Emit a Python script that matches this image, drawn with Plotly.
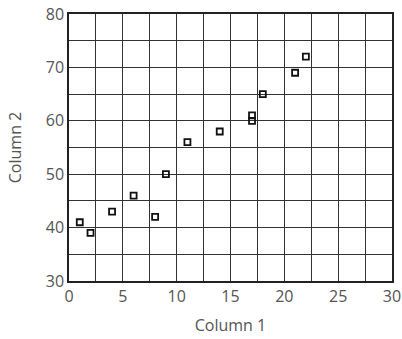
import plotly.graph_objects as go

col1 = [1, 2, 4, 6, 8, 9, 11, 14, 17, 17, 18, 21, 22]
col2 = [41, 39, 43, 46, 42, 50, 56, 58, 61, 60, 65, 69, 72]
x_ticks = [0, 5, 10, 15, 20, 25, 30]
y_ticks = [30, 40, 50, 60, 70, 80]

FONT = "Open Sans"
fig = go.Figure()
fig.add_trace(go.Scatter(
    x=col1, y=col2, mode="markers",
    marker=dict(symbol="square-open", size=6, color="#111",
                line=dict(width=1.8, color="#111")),
    showlegend=False, cliponaxis=False,
))

axis_common = dict(
    showline=True, linecolor="#222", linewidth=1.5, mirror=True,
    showgrid=True, gridcolor="#333", gridwidth=1.3,
    zeroline=False, ticks="", automargin=False,
    tickfont=dict(family=FONT, size=16, color="#555"),
)
fig.update_xaxes(range=[0, 30], tickvals=x_ticks,
                 minor=dict(dtick=2.5, tick0=0, showgrid=True, gridcolor="#333", gridwidth=1.3),
                 title=dict(text="Column 1", font=dict(family=FONT, size=16, color="#555"), standoff=14),
                 **axis_common)
fig.update_yaxes(range=[30, 80], tickvals=y_ticks,
                 minor=dict(dtick=5, tick0=0, showgrid=True, gridcolor="#333", gridwidth=1.3),
                 title=dict(text="Column 2", font=dict(family=FONT, size=16, color="#555"), standoff=20),
                 **axis_common)
fig.update_layout(
    width=402, height=339,
    margin=dict(l=69, r=10, t=14, b=58),
    plot_bgcolor="white", paper_bgcolor="white",
)
fig.write_html("out.html", config={"displayModeBar": False},
               post_script="document.body.style.margin='0';document.body.style.overflow='hidden';")
